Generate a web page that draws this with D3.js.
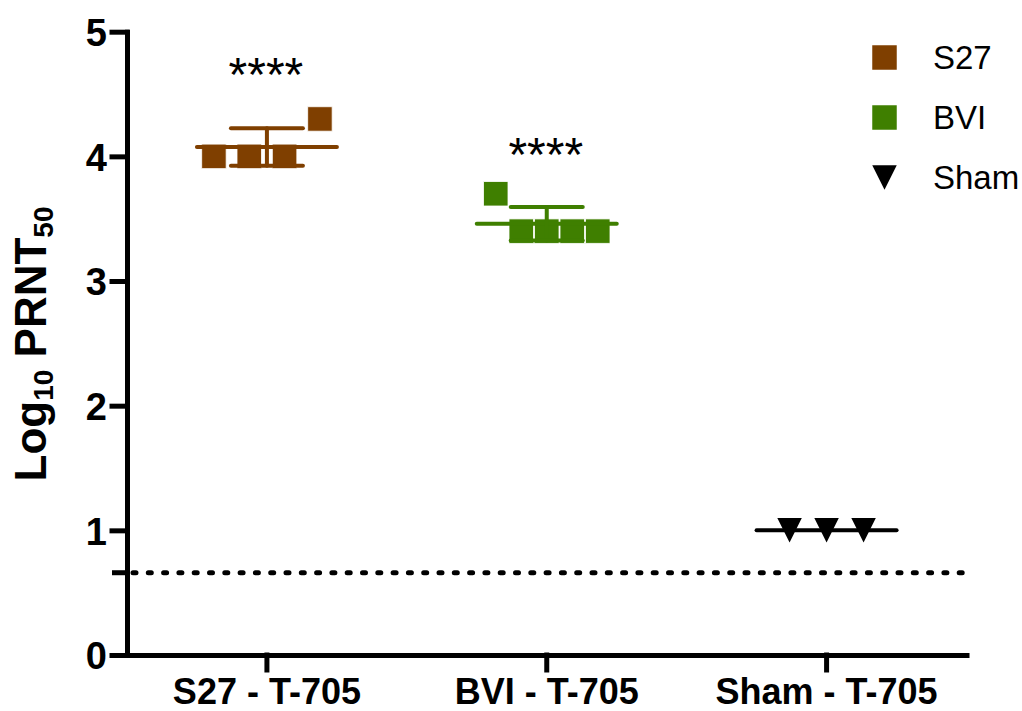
<!DOCTYPE html>
<html lang="en">
<head>
    <meta charset="UTF-8">
    <title>prnt50_scatter</title>
    <script src="https://d3js.org/d3.v7.min.js"></script>
    <style>
        body { margin: 0; background: #fff; }
        svg { display: block; }
        text { font-family: "Liberation Sans", Arial, sans-serif; fill: #000; }
        .axis path, .axis line { stroke: #000; stroke-width: 5; stroke-linecap: square; }
        .axis text { font-weight: bold; }
    </style>
</head>
<body>
    <div id="chart"></div>
    <script>
        // data
        const groups = ["S27 - T-705", "BVI - T-705", "Sham - T-705"];
        const seriesNames = ["S27", "BVI", "Sham"];
        const s27Values = [4.0, 4.0, 4.0, 4.3];
        const bviValues = [3.7, 3.4, 3.4, 3.4, 3.4];
        const shamValues = [1.0, 1.0, 1.0];
        const yTicks = [0, 1, 2, 3, 4, 5];
        const detectionLimit = 0.66;
        const sigLabels = ["****", "****", ""];
        const sigLevels = [4.75, 4.11, null];

        const colors = ["#7f3f00", "#3f7f00", "#000000"];
        const shapes = ["square", "square", "triangle"];
        const spread = [106, 102, 74]; // horizontal spread of points per group
        const seriesValues = [s27Values, bviValues, shamValues];

        const width = 1022, height = 711;
        const plotLeft = 127, plotRight = 966.5, plotTop = 31.7, plotBottom = 655;
        const sym = 24.5;

        const svg = d3.select("#chart").append("svg")
            .attr("width", width)
            .attr("height", height);

        const x = d3.scaleBand().domain(groups).range([plotLeft, plotRight]);
        const y = d3.scaleLinear().domain([0, 5]).range([plotBottom, plotTop]);

        function symbolPath(shape) {
            const h = sym / 2;
            if (shape === "triangle") {
                return `M${-h},${-h}L${h},${-h}L0,${h}Z`;
            }
            return `M${-h},${-h}H${h}V${h}H${-h}Z`;
        }

        // dotted limit line
        svg.append("line")
            .attr("x1", plotLeft + 6).attr("x2", 973)
            .attr("y1", y(detectionLimit)).attr("y2", y(detectionLimit))
            .attr("stroke", "#000")
            .attr("stroke-width", 5)
            .attr("stroke-linecap", "round")
            .attr("stroke-dasharray", "3 12.3");

        // axes
        const yAxis = svg.append("g")
            .attr("class", "axis")
            .attr("transform", `translate(${plotLeft},0)`)
            .call(d3.axisLeft(y).tickValues(yTicks).tickFormat(d3.format("d")).tickSize(15).tickSizeOuter(0).tickPadding(5));
        yAxis.selectAll("text").style("font-size", "38px").attr("dy", "0.36em");

        // small tick at the detection limit
        svg.append("line")
            .attr("x1", plotLeft - 15).attr("x2", plotLeft)
            .attr("y1", y(detectionLimit)).attr("y2", y(detectionLimit))
            .attr("stroke", "#000").attr("stroke-width", 5);

        const xAxis = svg.append("g")
            .attr("class", "axis")
            .attr("transform", `translate(0,${plotBottom})`)
            .call(d3.axisBottom(x).tickSize(15).tickSizeOuter(0).tickPadding(8));
        xAxis.selectAll("text").style("font-size", "36px").attr("dy", "0.71em");

        // groups: points, mean and SD
        groups.forEach((g, gi) => {
            const vals = seriesValues[gi];
            const cx = x(g) + x.bandwidth() / 2;
            const px = d3.scalePoint()
                .domain(d3.range(vals.length))
                .range([cx - spread[gi] / 2, cx + spread[gi] / 2]);

            svg.append("g").selectAll("path")
                .data(vals)
                .enter()
                .append("path")
                .attr("d", symbolPath(shapes[gi]))
                .attr("transform", (d, i) => `translate(${px(i)},${y(d)})`)
                .attr("fill", colors[gi])
                .attr("stroke", shapes[gi] === "square" ? "#fff" : "none")
                .attr("stroke-width", 0.8);

            const mean = d3.mean(vals);
            const sd = d3.deviation(vals) || 0;
            const bars = svg.append("g")
                .attr("stroke", colors[gi])
                .attr("stroke-width", 4)
                .attr("stroke-linecap", "round");

            bars.append("line")
                .attr("x1", cx - 70).attr("x2", cx + 70)
                .attr("y1", y(mean)).attr("y2", y(mean));

            if (sd > 0) {
                bars.append("line")
                    .attr("x1", cx).attr("x2", cx)
                    .attr("y1", y(mean - sd)).attr("y2", y(mean + sd));
                [mean - sd, mean + sd].forEach(v => {
                    bars.append("line")
                        .attr("x1", cx - 36).attr("x2", cx + 36)
                        .attr("y1", y(v)).attr("y2", y(v));
                });
            }

            if (sigLevels[gi] !== null) {
                svg.append("text")
                    .attr("x", cx - 1)
                    .attr("y", y(sigLevels[gi]) + 28)
                    .attr("text-anchor", "middle")
                    .style("font-size", "48px")
                    .text(sigLabels[gi]);
            }
        });

        // y label
        const yLabel = svg.append("text")
            .attr("transform", "translate(46,344) rotate(-90)")
            .attr("text-anchor", "middle")
            .style("font-size", "44px")
            .style("font-weight", "bold");
        yLabel.append("tspan").text("Log");
        yLabel.append("tspan").attr("dy", 7).style("font-size", "28px").text("10");
        yLabel.append("tspan").attr("dy", -7).text(" PRNT");
        yLabel.append("tspan").attr("dy", 7).style("font-size", "28px").text("50");

        // legend
        const legend = svg.append("g").attr("transform", "translate(884.5,57.5)");
        seriesNames.forEach((name, i) => {
            const item = legend.append("g").attr("transform", `translate(0,${i * 60})`);
            item.append("path")
                .attr("d", symbolPath(shapes[i]))
                .attr("fill", colors[i]);
            item.append("text")
                .attr("x", 48.5)
                .attr("y", 11)
                .style("font-size", "33px")
                .text(name);
        });
    </script>
</body>
</html>
